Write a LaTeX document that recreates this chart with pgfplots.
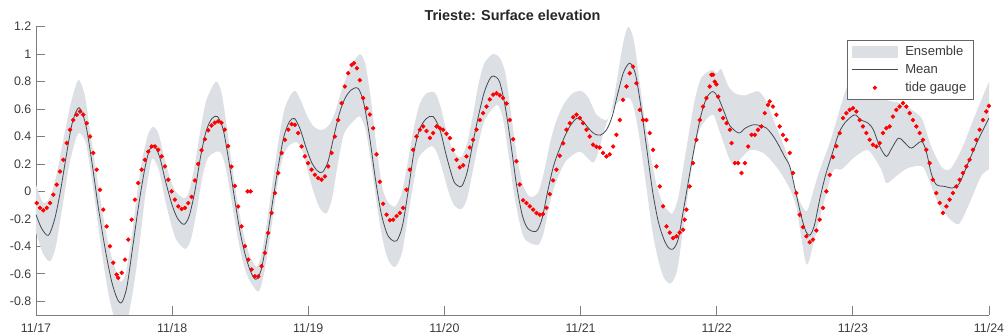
\documentclass[border=0pt]{standalone}
\usepackage{fontspec}
\setmainfont{Liberation Sans}
\usepackage{pgfplots}
\pgfplotsset{compat=1.18}
\usepgfplotslibrary{fillbetween}

\definecolor{bandgray}{RGB}{220,223,227}
\definecolor{meanline}{RGB}{66,76,86}
\definecolor{axisgray}{RGB}{125,125,125}
\definecolor{labelgray}{RGB}{60,60,60}

\begin{document}
\begin{tikzpicture}
\begin{axis}[
  scale only axis,
  width=714.75pt, height=216.2pt,
  xmin=0, xmax=168, ymin=-0.9, ymax=1.2,
  axis x line*=bottom, axis y line*=left,
  axis line style={axisgray, line width=0.6pt},
  tick align=inside,
  major tick length=6.75pt,
  tick style={axisgray, line width=0.6pt},
  xtick={0,24,...,168},
  xticklabels={11/17,11/18,11/19,11/20,11/21,11/22,11/23,11/24},
  ytick={-0.8,-0.6,-0.4,-0.2,0,0.2,0.4,0.6,0.8,1,1.2},
  /pgf/number format/assume math mode=true,
  ticklabel style={font=\fontsize{9.3}{11}\selectfont, text=labelgray},
  xticklabel style={yshift=-3pt},
  title={Trieste: Surface elevation},
  title style={font=\bfseries\fontsize{10.8}{12}\selectfont, text=black!85, anchor=base, yshift=-1pt},
  legend style={at={(rel axis cs:0.9835,0.954)}, anchor=north east,
    draw=black!60, line width=0.5pt, fill=white,
    font=\fontsize{9.8}{11.5}\selectfont, text=labelgray,
    inner xsep=3pt, inner ysep=2.5pt, row sep=1pt,
    /tikz/every odd column/.append style={column sep=3.5pt}},
  legend cell align=left,
]
\coordinate (o) at (rel axis cs:0,0);
\coordinate (t) at (rel axis cs:1,1);

% upper edge of the ensemble spread
\addplot[name path=ensup, draw=none, smooth, tension=0.45, forget plot] table[x=h, y=elev] {
h elev
0 0.05
1.2 -0.08
2.4 -0.05
3.5 0.1
4.7 0.35
5.9 0.6
7.0 0.77
7.63 0.81
8.6 0.7
9.6 0.42
10.6 0.15
11.6 -0.12
12.6 -0.35
13.6 -0.52
14.6 -0.63
15.0 -0.66
15.8 -0.6
16.8 -0.35
17.8 -0.02
18.8 0.25
19.8 0.42
20.67 0.47
21.6 0.42
22.6 0.25
23.6 0.1
24.6 0.0
26.1 -0.05
27.0 0.0
28.0 0.2
29.0 0.45
30.0 0.66
31.7 0.80
32.7 0.72
33.7 0.45
34.7 0.15
35.7 -0.12
36.7 -0.33
37.7 -0.47
38.9 -0.55
39.8 -0.45
40.8 -0.2
41.8 0.1
42.8 0.38
43.8 0.6
45.0 0.71
45.8 0.73
46.8 0.65
47.8 0.55
48.8 0.48
49.8 0.45
50.6 0.45
51.6 0.48
52.6 0.56
53.6 0.7
54.6 0.82
55.6 0.92
57.1 1.0
58.1 0.92
59.1 0.65
60.1 0.3
61.1 0.02
62.1 -0.08
63.3 -0.11
64.4 -0.02
65.4 0.18
66.4 0.42
67.5 0.62
68.7 0.71
70.3 0.72
71.3 0.62
72.3 0.45
73.3 0.32
74.2 0.26
75.0 0.25
76.0 0.35
77.0 0.55
78.0 0.78
79.0 0.93
80.5 1.0
81.8 0.97
82.8 0.85
83.8 0.55
84.8 0.25
85.8 0.05
86.8 -0.03
87.6 -0.04
88.6 0.0
89.6 0.15
90.6 0.35
91.6 0.5
92.6 0.6
93.6 0.67
94.8 0.72
96.2 0.73
97.4 0.68
98.8 0.56
100.6 0.52
101.6 0.62
102.6 0.86
103.5 1.08
104.4 1.2
105.4 1.1
106.4 0.8
107.4 0.5
108.4 0.25
109.4 0.05
110.4 -0.08
111.4 -0.14
112.2 -0.16
113.2 -0.05
114.2 0.2
115.2 0.45
116.2 0.68
117.3 0.83
119.1 0.885
120.0 0.86
120.8 0.89
122.0 0.77
123.2 0.715
125.0 0.70
127.3 0.73
128.8 0.65
130.4 0.48
132.3 0.28
134.0 -0.01
135.8 -0.145
137.0 0.0
138.2 0.16
139.9 0.35
141.0 0.5
142.0 0.64
143.2 0.78
145.5 0.85
147.5 0.75
149.6 0.67
152.5 0.64
155.2 0.57
156.3 0.52
157.8 0.33
159.6 0.18
161.1 0.16
163.1 0.30
165.5 0.55
167.8 0.78
168 0.79
};

% lower edge of the ensemble spread
\addplot[name path=enslo, draw=none, smooth, tension=0.45, forget plot] table[x=h, y=elev] {
h elev
0 -0.30
1.2 -0.45
2.47 -0.51
3.5 -0.4
4.7 -0.1
5.9 0.2
7.0 0.38
7.75 0.425
8.8 0.35
9.8 0.1
10.8 -0.2
11.8 -0.5
12.8 -0.75
13.8 -0.92
15.1 -1.0
16.2 -0.92
17.2 -0.7
18.2 -0.4
19.2 -0.05
20.2 0.2
20.67 0.24
21.7 0.15
22.7 -0.05
23.7 -0.22
24.7 -0.35
26.26 -0.42
27.3 -0.35
28.3 -0.15
29.3 0.1
30.4 0.25
32.4 0.29
33.4 0.18
34.4 -0.05
35.4 -0.3
36.4 -0.5
37.4 -0.63
39.2 -0.73
40.2 -0.6
41.2 -0.35
42.2 -0.05
43.2 0.2
44.3 0.32
45.9 0.36
46.9 0.3
47.9 0.15
48.9 0.0
50.0 -0.12
51.2 -0.16
52.2 -0.05
53.2 0.2
54.3 0.42
55.9 0.51
57.1 0.545
58.1 0.45
59.1 0.2
60.1 -0.1
61.1 -0.35
62.1 -0.5
63.3 -0.55
64.5 -0.45
65.5 -0.2
66.5 0.05
67.5 0.25
69.7 0.33
70.7 0.28
71.7 0.15
72.7 0.0
73.7 -0.1
75.0 -0.13
76.0 -0.05
77.0 0.15
78.0 0.35
79.1 0.52
81.2 0.63
82.2 0.55
83.2 0.3
84.2 0.0
85.2 -0.22
86.2 -0.35
88.5 -0.39
89.5 -0.3
90.5 -0.1
91.5 0.05
92.5 0.15
93.6 0.23
95.9 0.29
98.2 0.21
99.2 0.3
100.2 0.45
101.2 0.56
102.6 0.65
104.7 0.68
105.7 0.55
106.7 0.3
107.7 0.0
108.7 -0.3
109.7 -0.5
110.7 -0.63
111.9 -0.67
113.0 -0.58
114.0 -0.3
115.0 0.0
116.0 0.28
117.2 0.47
119.3 0.56
120.4 0.45
122.3 0.23
123.5 0.21
125.8 0.30
128.2 0.28
130.5 0.18
132.5 0.05
134.0 -0.11
135.8 -0.53
137.2 -0.35
138.7 -0.11
140.5 0.15
142.0 0.16
144.3 0.25
146.7 0.30
149.0 0.16
149.9 0.06
151.6 0.11
153.7 0.17
156.3 0.18
157.8 0.04
159.6 -0.13
162.5 -0.24
164.3 -0.11
166.6 0.11
168 0.16
};

\addplot[fill=bandgray, draw=none,
  legend image code/.code={\fill[bandgray] (0pt,-4.4pt) rectangle (34pt,4.4pt);}]
  fill between[of=ensup and enslo];
\addlegendentry{Ensemble}

% ensemble mean
\addplot[meanline, line width=0.6pt, smooth, tension=0.5,
  legend image code/.code={\draw[meanline, line width=0.6pt] (0pt,0pt) -- (34pt,0pt);}]
  table[x=h, y=elev] {
h elev
0 -0.17
1 -0.27
2.2 -0.32
3.3 -0.2
4.3 0.0
5.3 0.25
6.4 0.5
7.6 0.61
8.8 0.48
9.9 0.2
11.0 -0.12
12.2 -0.42
13.3 -0.65
14.3 -0.78
15.1 -0.81
16.0 -0.7
17.0 -0.42
18.1 -0.1
19.2 0.17
20.0 0.3
20.8 0.335
21.8 0.25
22.8 0.08
24.0 -0.1
25.0 -0.2
26.1 -0.24
27.0 -0.18
28.0 0.0
29.0 0.25
30.0 0.44
31.0 0.53
32.0 0.545
33.0 0.45
34.0 0.22
35.0 -0.05
36.0 -0.3
37.0 -0.48
38.0 -0.6
38.8 -0.64
39.7 -0.57
40.7 -0.35
41.7 -0.08
42.7 0.18
43.7 0.4
44.7 0.51
45.6 0.53
46.6 0.45
47.6 0.32
48.6 0.21
49.6 0.15
50.5 0.14
51.5 0.22
52.5 0.4
53.5 0.57
54.5 0.68
55.6 0.74
56.8 0.75
57.8 0.64
58.8 0.4
59.8 0.1
60.8 -0.15
61.8 -0.3
62.6 -0.35
63.6 -0.36
64.6 -0.25
65.6 0.0
66.6 0.28
67.6 0.45
68.8 0.53
70.0 0.545
71.2 0.45
72.4 0.25
73.6 0.08
74.4 0.04
75.1 0.04
76.0 0.14
77.0 0.35
78.0 0.55
79.0 0.72
80.0 0.82
80.7 0.84
81.7 0.8
82.7 0.62
83.7 0.35
84.7 0.05
85.7 -0.17
86.7 -0.27
88.2 -0.29
89.2 -0.2
90.2 0.0
91.2 0.18
92.2 0.3
93.2 0.4
94.2 0.48
95.4 0.534
96.4 0.51
97.4 0.46
98.4 0.42
99.5 0.41
100.6 0.45
101.6 0.55
102.6 0.72
103.6 0.87
104.7 0.934
105.7 0.85
106.7 0.6
107.7 0.3
108.7 0.0
109.7 -0.22
110.7 -0.35
111.5 -0.41
112.3 -0.42
113.2 -0.35
114.2 -0.12
115.2 0.12
116.2 0.35
117.2 0.55
118.2 0.68
119.3 0.727
120.3 0.68
121.3 0.58
122.3 0.48
123.9 0.425
125.0 0.46
126.4 0.485
127.6 0.48
128.8 0.46
130.0 0.4
131.0 0.33
132.0 0.25
132.9 0.18
133.9 0.0
134.9 -0.18
135.7 -0.29
136.4 -0.32
137.2 -0.25
138.2 -0.05
139.2 0.12
140.4 0.28
141.5 0.42
142.6 0.5
144.3 0.558
145.4 0.52
146.6 0.5
147.6 0.45
148.7 0.33
149.9 0.255
150.8 0.31
152.0 0.388
152.9 0.365
154.3 0.315
156.1 0.364
157.0 0.28
157.8 0.134
158.7 0.05
160.2 0.036
161.6 0.025
162.8 0.06
164.3 0.206
166.1 0.376
168.0 0.534
};
\addlegendentry{Mean}

% tide gauge observations
\addplot[only marks, mark=*, mark size=1.45pt, red, mark options={draw=red, fill=red},
  legend image code/.code={\fill[red] (17pt,0pt) circle (1.3pt); \path (0pt,0pt) (34pt,0pt);}]
  table[x=h, y=elev] {
h elev
0.12 -0.085
0.70 -0.12
1.29 -0.138
1.89 -0.12
2.47 -0.085
3.05 -0.024
3.65 0.049
4.23 0.145
4.81 0.23
5.41 0.352
5.99 0.449
6.57 0.52
7.17 0.558
7.75 0.582
8.33 0.558
8.93 0.497
9.52 0.40
10.10 0.28
10.70 0.158
11.28 0.012
11.86 -0.133
12.46 -0.255
13.04 -0.40
13.62 -0.52
14.22 -0.606
14.50 -0.63
15.10 -0.593
15.68 -0.497
16.26 -0.351
16.86 -0.206
17.44 -0.06
18.03 0.061
18.63 0.158
19.21 0.23
19.79 0.29
20.39 0.327
20.97 0.327
21.55 0.303
22.15 0.255
22.73 0.182
23.31 0.085
23.91 0.0
24.49 -0.06
25.07 -0.109
25.67 -0.128
26.26 -0.12
26.84 -0.085
27.44 -0.04
28.02 0.08
28.60 0.2
29.18 0.3
29.77 0.38
30.35 0.445
30.93 0.48
31.51 0.5
32.10 0.51
32.69 0.5
33.28 0.45
33.87 0.33
34.46 0.18
35.05 0.04
35.64 -0.11
36.23 -0.255
36.82 -0.40
37.30 0.0
37.41 -0.497
37.83 0.0
38.00 -0.569
38.59 -0.618
39.17 -0.62
39.77 -0.545
40.35 -0.448
40.93 -0.303
41.53 -0.157
42.11 -0.012
42.70 0.134
43.30 0.28
43.88 0.376
44.46 0.45
45.06 0.49
45.64 0.485
46.22 0.425
46.82 0.327
47.40 0.255
47.98 0.206
48.58 0.158
49.16 0.121
49.74 0.097
50.34 0.085
50.93 0.109
51.51 0.182
52.11 0.28
52.69 0.40
53.27 0.52
53.87 0.643
54.45 0.764
55.03 0.861
55.63 0.921
56.04 0.934
56.56 0.897
57.09 0.81
57.67 0.68
58.27 0.605
58.85 0.56
59.44 0.46
60.04 0.27
60.62 0.07
61.20 -0.09
61.80 -0.17
62.38 -0.21
62.96 -0.206
63.56 -0.18
64.14 -0.157
64.72 -0.12
65.32 0.012
65.90 0.158
66.48 0.303
67.08 0.40
67.67 0.449
68.25 0.473
68.84 0.44
69.43 0.39
70.01 0.425
70.61 0.473
71.19 0.46
71.77 0.449
72.37 0.42
72.95 0.388
73.53 0.303
74.13 0.23
74.71 0.175
75.30 0.19
75.89 0.255
76.48 0.32
77.06 0.376
77.66 0.45
78.24 0.52
78.82 0.57
79.42 0.618
80.00 0.67
80.58 0.705
81.18 0.715
81.76 0.70
82.34 0.68
82.94 0.64
83.52 0.52
84.11 0.38
84.70 0.22
85.28 0.05
85.87 -0.065
86.46 -0.085
87.05 -0.109
87.63 -0.133
88.23 -0.157
88.81 -0.17
89.39 -0.165
89.99 -0.12
90.57 -0.02
91.15 0.08
91.75 0.158
92.33 0.26
92.92 0.35
93.51 0.449
94.10 0.497
94.68 0.54
95.28 0.558
95.86 0.534
96.44 0.497
97.04 0.449
97.62 0.40
98.20 0.34
98.80 0.325
99.38 0.32
99.96 0.28
100.56 0.255
101.14 0.27
101.73 0.327
102.32 0.412
102.91 0.52
103.49 0.667
104.09 0.764
104.67 0.861
105.25 0.909
105.85 0.788
106.43 0.594
107.01 0.52
107.61 0.52
108.19 0.425
108.78 0.303
109.37 0.182
109.96 0.036
110.54 -0.109
111.14 -0.255
111.72 -0.30
112.30 -0.34
112.90 -0.327
113.48 -0.30
114.06 -0.279
114.36 -0.206
114.66 -0.133
115.24 0.036
115.82 0.206
116.42 0.376
117.00 0.52
117.59 0.618
118.18 0.68
118.77 0.764
119.07 0.849
119.36 0.85
119.65 0.80
119.95 0.78
120.25 0.69
120.55 0.594
121.14 0.534
121.73 0.497
122.31 0.449
122.61 0.352
123.19 0.206
123.77 0.206
124.37 0.134
124.96 0.206
125.54 0.327
126.14 0.412
126.72 0.412
127.28 0.449
127.88 0.473
128.46 0.57
129.04 0.63
129.34 0.655
129.92 0.618
130.52 0.558
131.10 0.473
131.68 0.412
132.28 0.376
132.86 0.28
133.44 0.134
134.04 -0.012
134.63 -0.17
135.21 -0.26
135.81 -0.327
136.39 -0.37
136.97 -0.351
137.57 -0.285
138.15 -0.206
138.73 -0.12
139.33 0.0
139.91 0.12
140.49 0.25
141.09 0.33
141.67 0.425
142.26 0.534
142.85 0.57
143.44 0.594
144.02 0.606
144.62 0.582
145.20 0.52
145.78 0.473
146.38 0.425
146.96 0.376
147.54 0.34
148.14 0.327
148.72 0.352
149.31 0.425
149.90 0.461
150.49 0.473
151.07 0.545
151.67 0.594
152.25 0.618
152.83 0.643
153.43 0.618
154.01 0.57
154.59 0.52
155.19 0.473
155.77 0.425
156.35 0.376
156.95 0.303
157.53 0.206
158.11 0.085
158.71 -0.012
159.30 -0.084
159.88 -0.157
160.48 -0.109
161.06 -0.06
161.64 -0.012
162.24 0.036
162.82 0.085
163.40 0.134
164.00 0.182
164.58 0.23
165.16 0.303
165.76 0.376
166.34 0.449
166.93 0.52
167.52 0.582
167.98 0.623
};
\addlegendentry{tide gauge}
\end{axis}
\pgfresetboundingbox
\path ([shift={(-27pt,-15.75pt)}]o) rectangle ([shift={(12.75pt,20pt)}]t);
\end{tikzpicture}
\end{document}
